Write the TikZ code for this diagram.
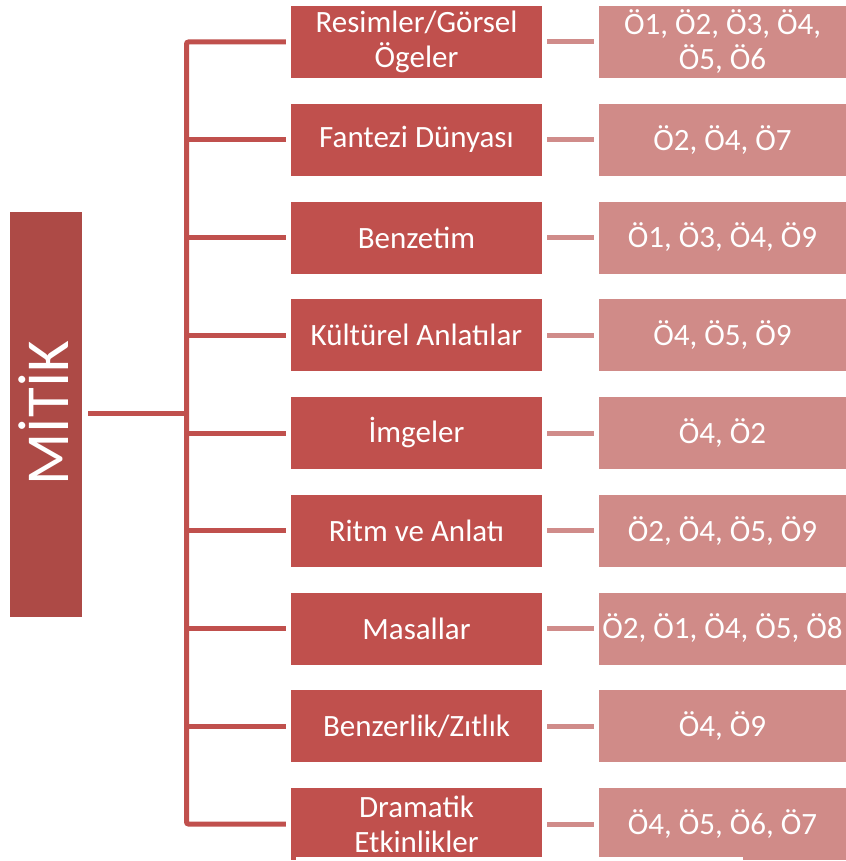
\documentclass[tikz,border=0pt]{standalone}
\usepackage{fontspec}
\setmainfont{Carlito}
\definecolor{midc}{HTML}{C0504D}
\definecolor{leftc}{HTML}{AD4A46}
\definecolor{rightc}{HTML}{D08B88}
\definecolor{rlinec}{HTML}{D08C8A}
\begin{document}
\begin{tikzpicture}[x=1pt,y=-1pt,
  midbox/.style={fill=midc,text=white,minimum width=251pt,minimum height=72pt,inner sep=0pt,align=center,font=\fontsize{31}{35}\selectfont},
  rbox/.style={fill=rightc,text=white,minimum width=247pt,minimum height=72pt,inner sep=0pt,align=center,font=\fontsize{31}{35}\selectfont},
  lbox/.style={fill=leftc,text=white,minimum width=72pt,minimum height=405pt,inner sep=0pt},
  mline/.style={draw=midc,line width=5pt},
  rline/.style={draw=rlinec,line width=5pt}]
\useasboundingbox (0,0) rectangle (845,861);
\fill[white] (0,0) rectangle (845,861);
\node[lbox] (L) at (46,414) {};
\node[text=white,rotate=90,font=\fontsize{61}{61}\selectfont,inner sep=0pt] (Lt) at (44,413) {MİTİK};
\foreach \i/\mt/\rt in {
  0/{Resimler/Görsel\\Ögeler}/{Ö1, Ö2, Ö3, Ö4,\\Ö5, Ö6},
  1/{Fantezi Dünyası}/{Ö2, Ö4, Ö7},
  2/{Benzetim}/{Ö1, Ö3, Ö4, Ö9},
  3/{Kültürel Anlatılar}/{Ö4, Ö5, Ö9},
  4/{İmgeler}/{Ö4, Ö2},
  5/{Ritm ve Anlatı}/{Ö2, Ö4, Ö5, Ö9},
  6/{Masallar}/{Ö2, Ö1, Ö4, Ö5, Ö8},
  7/{Benzerlik/Zıtlık}/{Ö4, Ö9},
  8/{Dramatik\\Etkinlikler}/{Ö4, Ö5, Ö6, Ö7}} {
  \pgfmathsetmacro{\yy}{42+97.75*\i}
  \node[midbox] (m\i) at (416.5,\yy) {\mt};
  \node[rbox] (r\i) at (722.5,\yy) {\rt};
  \coordinate (b\i) at (186.5,\yy);
  \draw[rline] ([xshift=5pt]m\i.east) -- ([xshift=-5pt]r\i.west);
}
\coordinate (bmid) at (186.5,413);
\draw[mline,rounded corners=2pt] ([xshift=-5pt]m0.west) -- (b0) -- (b8) -- ([xshift=-5pt]m8.west);
\foreach \i in {1,...,7} {
  \draw[mline] (b\i) -- ([xshift=-5pt]m\i.west);
}
\draw[mline] ([xshift=6pt]L.east |- bmid) -- (bmid);
\fill[white] (296,857) rectangle (743,861);
\end{tikzpicture}
\end{document}
